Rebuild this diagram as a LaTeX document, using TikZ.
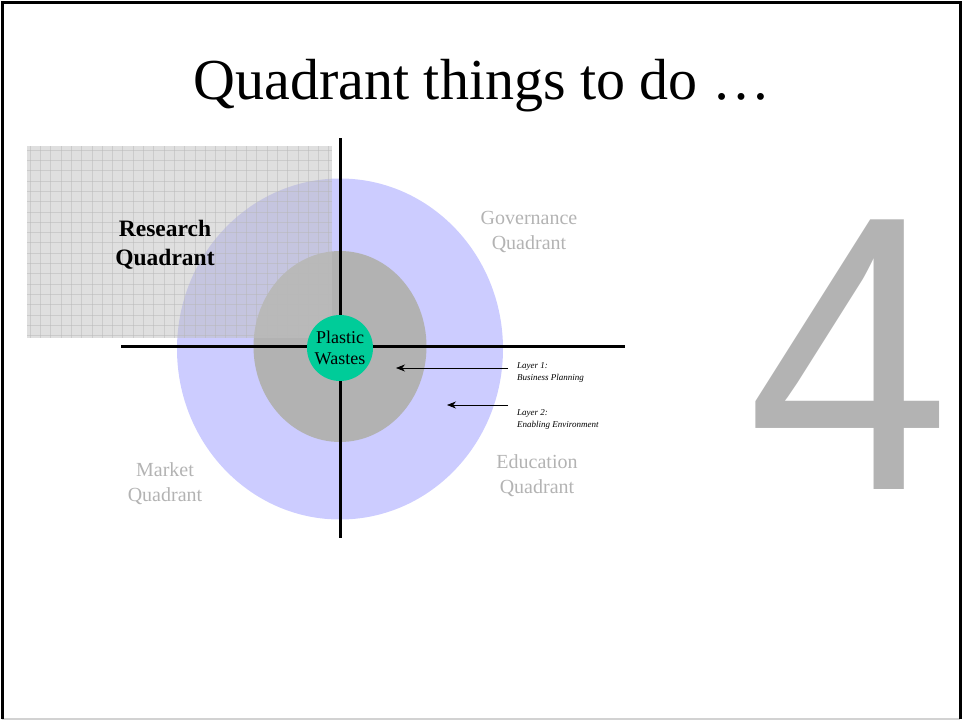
\documentclass[tikz,border=0pt]{standalone}
\usepackage{fontspec}
\setmainfont{Liberation Serif}
\newfontfamily\digitfont{Liberation Sans}
\usetikzlibrary{arrows.meta}
\definecolor{layerblue}{RGB}{204,204,255}
\definecolor{layergray}{RGB}{178,178,178}
\definecolor{gridfill}{RGB}{192,192,192}
\definecolor{gridline}{RGB}{184,184,184}
\definecolor{plasticgreen}{RGB}{0,204,153}
\definecolor{quadgray}{RGB}{179,179,179}
\definecolor{framegray}{RGB}{210,210,210}
\begin{document}
\begin{tikzpicture}[x=1pt, y=-1pt,
    quadlabel/.style={text=quadgray, align=center, inner sep=0, font=\fontsize{20}{25}\selectfont},
    layerlabel/.style={anchor=west, align=left, inner sep=0, font=\itshape\fontsize{9}{12}\selectfont},
    axis/.style={line width=3pt},
    pointer/.style={line width=0.7pt, -{Stealth[length=9pt, width=7pt]}}]
    \useasboundingbox (0,0) rectangle (962,720);
    \coordinate (fnw) at (2,2);
    \coordinate (fne) at (960,2);
    \coordinate (fsw) at (2,719);
    \coordinate (fse) at (960,719);
    \draw[line width=2pt, framegray](fsw) -- (fse);
    \draw[line width=3pt](fsw) -- (fnw) -- (fne) -- (fse);
    \node[anchor=base, inner sep=0, font=\fontsize{58}{60}\selectfont] (title) at (482,99.5){Quadrant things to do …};
    \fill[layerblue] (340,349) ellipse [x radius=163pt, y radius=170.5pt];
    \fill[layergray] (340,346.5) ellipse [x radius=86.5pt, y radius=95.5pt];
    \begin{scope}[opacity=0.5]
        \fill[gridfill] (27,146) rectangle (332,338);
        \foreach \i in {0,...,29}
            \draw[gridline, line width=0.5pt] (30+10.3*\i,146) -- (30+10.3*\i,338);
        \foreach \j in {0,...,18}
            \draw[gridline, line width=0.5pt] (27,150+10.3*\j) -- (332,150+10.3*\j);
    \end{scope}
    \coordinate (vtop) at (340,138);
    \coordinate (vbot) at (340,538);
    \coordinate (hleft) at (121,346);
    \coordinate (hright) at (625,346);
    \draw[axis](vtop) -- (vbot);
    \draw[axis](hleft) -- (hright);
    \node[circle, fill=plasticgreen, minimum size=66pt, inner sep=0, align=center, font=\fontsize{18}{21}\selectfont] (plastic) at (340,348){Plastic\\Wastes};
    \node[align=center, inner sep=0, font=\bfseries\fontsize{23.5}{29}\selectfont] (research) at (165,245){Research\\Quadrant};
    \node[quadlabel] (governance) at (529,232){Governance\\Quadrant};
    \node[quadlabel] (market) at (165,484){Market\\Quadrant};
    \node[quadlabel] (education) at (537,476){Education\\Quadrant};
    \node[layerlabel] (layer1) at (517,372){Layer 1:\\Business Planning};
    \node[layerlabel] (layer2) at (517,419){Layer 2:\\Enabling Environment};
    \coordinate (l1from) at (508,368);
    \coordinate (l1to) at (396,368);
    \coordinate (l2from) at (508,405);
    \coordinate (l2to) at (447,405);
    \draw[pointer](l1from) -- (l1to);
    \draw[pointer](l2from) -- (l2to);
    \node[anchor=south, inner sep=0, xscale=0.93, text=quadgray, font=\digitfont\fontsize{392}{392}\selectfont] (four) at (848.5,490){4};
\end{tikzpicture}
\end{document}
